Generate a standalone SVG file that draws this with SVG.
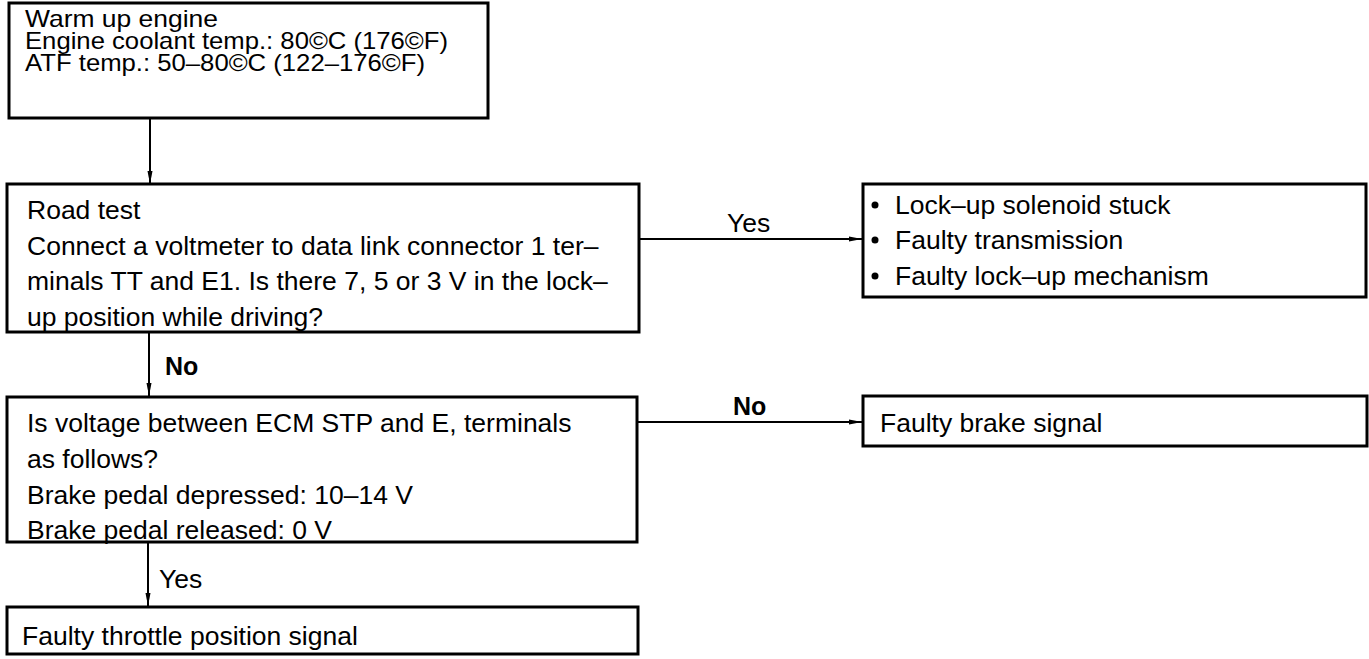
<svg xmlns="http://www.w3.org/2000/svg" width="1369" height="659" viewBox="0 0 1369 659">
<defs>
<style>
.box{fill:#fff;stroke:#000;stroke-width:3}
.t{font-family:"Liberation Sans",Arial,sans-serif;font-size:26.5px;fill:#000}
.t1{font-family:"Liberation Sans",Arial,sans-serif;font-size:24px;fill:#000}
.lb{font-family:"Liberation Sans",Arial,sans-serif;font-size:26.5px;fill:#000}
.lbb{font-family:"Liberation Sans",Arial,sans-serif;font-size:25px;font-weight:bold;fill:#000}
.c{fill:none;stroke:#000;stroke-width:2}
</style>
<marker id="ah" markerUnits="userSpaceOnUse" markerWidth="14" markerHeight="8" refX="13" refY="4" orient="auto">
<path d="M0,1.5 L13,4 L0,6.5 Z" fill="#000"/>
</marker>
</defs>
<rect width="1369" height="659" fill="#fff"/>
<g id="connectors">
<line class="c" x1="150" y1="118" x2="150" y2="184" marker-end="url(#ah)"/>
<line class="c" x1="149" y1="332" x2="149" y2="396" marker-end="url(#ah)"/>
<line class="c" x1="148" y1="542" x2="148" y2="606" marker-end="url(#ah)"/>
<line class="c" x1="639" y1="239" x2="862" y2="239" marker-end="url(#ah)"/>
<line class="c" x1="638" y1="422" x2="862" y2="422" marker-end="url(#ah)"/>
<text class="lb" x="727" y="232">Yes</text>
<text class="lbb" x="165" y="375">No</text>
<text class="lbb" x="733" y="415">No</text>
<text class="lb" x="159" y="588">Yes</text>
</g>
<g id="n1">
<rect class="box" x="9" y="3" width="479" height="115"/>
<text class="t1" x="25" y="27" textLength="193" lengthAdjust="spacingAndGlyphs">Warm up engine</text>
<text class="t1" x="25" y="49" textLength="423" lengthAdjust="spacingAndGlyphs">Engine coolant temp.: 80©C (176©F)</text>
<text class="t1" x="25" y="71" textLength="400" lengthAdjust="spacingAndGlyphs">ATF temp.: 50–80©C (122–176©F)</text>
</g>
<g id="n2">
<rect class="box" x="7" y="184" width="632" height="148"/>
<text class="t" x="27" y="219">Road test</text>
<text class="t" x="27" y="254.5">Connect a voltmeter to data link connector 1 ter–</text>
<text class="t" x="27" y="290">minals TT and E1. Is there 7, 5 or 3 V in the lock–</text>
<text class="t" x="27" y="325.5">up position while driving?</text>
</g>
<g id="n3">
<rect class="box" x="863" y="184" width="503" height="113"/>
<circle cx="875" cy="205" r="3.5"/>
<circle cx="875" cy="240" r="3.5"/>
<circle cx="875" cy="276" r="3.5"/>
<text class="t" x="895" y="214">Lock–up solenoid stuck</text>
<text class="t" x="895" y="249">Faulty transmission</text>
<text class="t" x="895" y="285">Faulty lock–up mechanism</text>
</g>
<g id="n4">
<rect class="box" x="7" y="397" width="630" height="145"/>
<text class="t" x="27" y="432">Is voltage between ECM STP and E, terminals</text>
<text class="t" x="27" y="468">as follows?</text>
<text class="t" x="27" y="504">Brake pedal depressed: 10–14 V</text>
<text class="t" x="27" y="539">Brake pedal released: 0 V</text>
</g>
<g id="n5">
<rect class="box" x="863" y="396" width="504" height="50"/>
<text class="t" x="880" y="432">Faulty brake signal</text>
</g>
<g id="n6">
<rect class="box" x="7" y="607" width="631" height="47"/>
<text class="t" x="22" y="645">Faulty throttle position signal</text>
</g>
</svg>
